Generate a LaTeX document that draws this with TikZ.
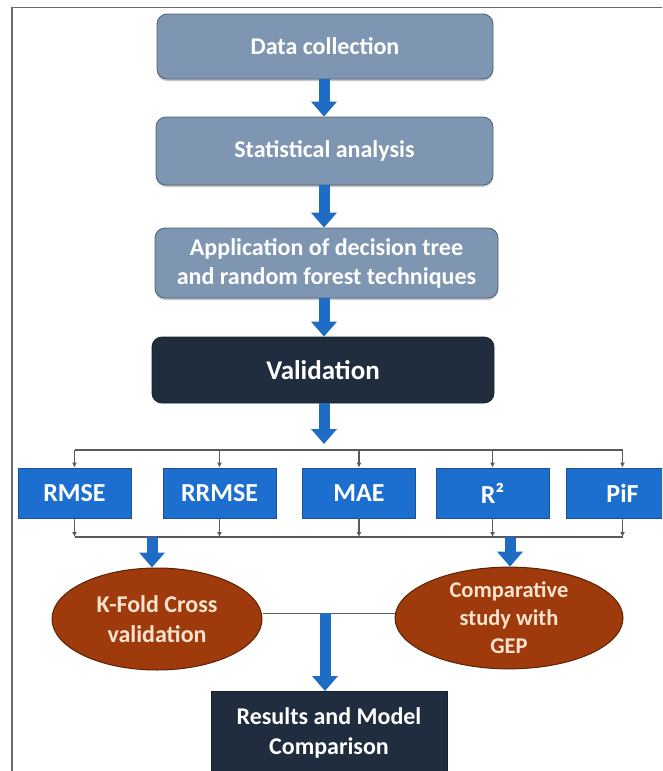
\documentclass[tikz,border=0pt]{standalone}
\usepackage{fontspec}
\setmainfont{Carlito}
\usetikzlibrary{arrows.meta,shapes.geometric,shadows}

\definecolor{stepfill}{HTML}{7E96B1}
\definecolor{stepedge}{HTML}{4F6178}
\definecolor{navyfill}{HTML}{1F2D3F}
\definecolor{metricfill}{HTML}{1C6FCE}
\definecolor{metricedge}{HTML}{1D518F}
\definecolor{flowblue}{HTML}{1E6CC4}
\definecolor{rustfill}{HTML}{9E3A0B}
\definecolor{rustedge}{HTML}{5C2406}
\definecolor{cream}{HTML}{FBE3CF}
\definecolor{wire}{HTML}{5A5A5A}
\definecolor{framegray}{HTML}{6A6A6A}

\tikzset{
  stepbox/.style={draw=stepedge, line width=0.8pt, fill=stepfill, rounded corners=10pt,
    text=white, font=\bfseries\fontsize{24}{29}\selectfont, align=center,
    drop shadow={shadow xshift=0pt, shadow yshift=-2pt, opacity=0.45}},
  navybox/.style={draw=navyfill!70!black, line width=0.8pt, fill=navyfill, text=white,
    align=center},
  metricbox/.style={draw=metricedge, line width=0.8pt, fill=metricfill, text=white,
    minimum width=113pt, minimum height=50pt, inner sep=0pt,
    font=\bfseries\fontsize{26}{28}\selectfont},
  rustoval/.style={ellipse, draw=rustedge, line width=1pt, fill=rustfill, text=cream,
    inner sep=0pt, align=center},
  bigarrow/.style={draw=flowblue, line width=11pt,
    -{Triangle[width=25pt,length=15pt]}},
  wireline/.style={draw=wire, line width=1.1pt},
  stubarrow/.style={draw=wire, line width=1.1pt, -{Latex[length=5pt,width=5pt]}},
}

\begin{document}
\begin{tikzpicture}[x=1pt,y=-1pt]
  \useasboundingbox (0,0) rectangle (662,771);
  \clip (0,0) rectangle (662,771);

  % outer frame (left and top edges)
  \draw[framegray, line width=1.5pt] (12,775) -- (12,7.5) -- (670,7.5);

  % main pipeline
  \coordinate (spine) at (324,0);
  \node[stepbox, minimum width=336pt, minimum height=65pt] (dc) at (325,46.5) {Data collection};
  \node[stepbox, minimum width=337pt, minimum height=68pt] (sa) at (324.5,151) {Statistical analysis};
  \node[stepbox, minimum width=343pt, minimum height=70pt] (app) at (326.5,263)
    {Application of decision tree\\and random forest techniques};
  \node[navybox, rounded corners=10pt, minimum width=342pt, minimum height=66pt,
        font=\bfseries\fontsize{27}{30}\selectfont] (val) at (323,370) {Validation};

  \draw[bigarrow] (dc.south -| spine) -- (sa.north -| spine);
  \draw[bigarrow] (sa.south -| spine) -- (app.north -| spine);
  \draw[bigarrow] (app.south -| spine) -- (val.north -| spine);

  % performance metrics
  \node[metricbox] (rmse) at (74.5,493) {RMSE};
  \node[metricbox] (rrmse) at (219.5,493) {RRMSE};
  \node[metricbox] (mae) at (359,493) {MAE};
  \node[metricbox] (rsq) at (492.5,493) {R²};
  \node[metricbox] (pif) at (622.5,493) {PiF};

  \coordinate (topbar) at (0,450);
  \coordinate (botbar) at (0,537);

  \draw[bigarrow, shorten >=6pt] (val.south -| spine) -- (spine |- topbar);
  \draw[wireline] (rmse.north |- topbar) -- (pif.north |- topbar);
  \draw[wireline] (rmse.south |- botbar) -- (pif.south |- botbar);
  \foreach \m in {rmse,rrmse,mae,rsq,pif}{
    \draw[stubarrow] (\m.north |- topbar) -- (\m.north);
    \draw[stubarrow] (\m.south) -- (\m.south |- botbar);
  }

  % validation approaches
  \node[rustoval, minimum width=210pt, minimum height=102pt,
        font=\bfseries\fontsize{24}{30}\selectfont] (kf) at (157,619)
    {K-Fold Cross\\validation};
  \node[rustoval, minimum width=228pt, minimum height=101pt,
        font=\bfseries\fontsize{22.5}{28}\selectfont] (gep) at (509,618)
    {Comparative\\study with\\GEP};

  \coordinate (kfdrop) at (152,537);
  \coordinate (gepdrop) at (510,537);
  \draw[bigarrow] (kfdrop) -- (kfdrop |- kf.north);
  \draw[bigarrow] (gepdrop) -- (gepdrop |- gep.north);

  \coordinate (join) at (325,613);
  \draw[wireline, line width=0.9pt] (kf.east |- join) -- (gep.west |- join);

  % final stage
  \node[navybox, minimum width=236pt, minimum height=84pt, anchor=north,
        font=\bfseries\fontsize{24}{30}\selectfont] (res) at (329,691)
    {Results and Model\\Comparison};
  \draw[bigarrow] (join) -- (join |- res.north);
\end{tikzpicture}
\end{document}
